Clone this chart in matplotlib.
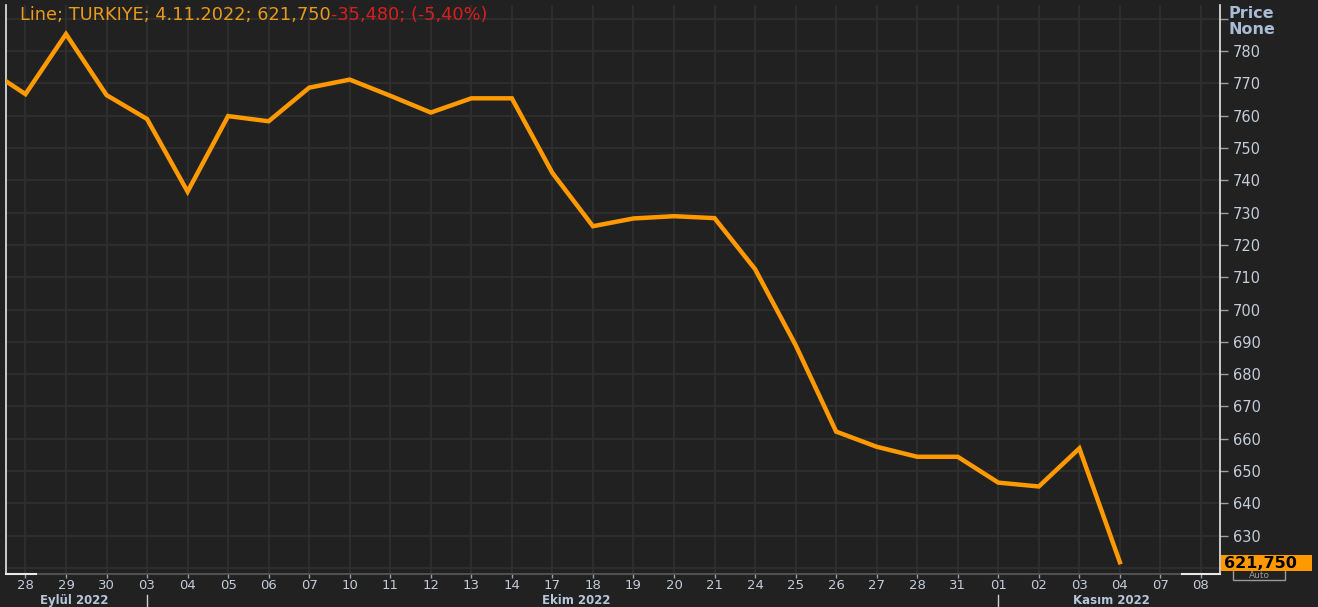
import matplotlib
matplotlib.use("Agg")
import matplotlib.pyplot as plt
from matplotlib.patches import Rectangle

# ---- data ----
dates = ["27", "28", "29", "30", "03", "04", "05", "06", "07", "10", "11", "12", "13", "14",
         "17", "18", "19", "20", "21", "24", "25", "26", "27", "28", "31", "01", "02", "03", "04"]
prices = [775.0, 766.7, 785.3, 766.4, 759.0, 736.5, 759.9, 758.3, 768.7, 771.2, 766.2, 761.0,
          765.4, 765.4, 742.3, 725.8, 728.2, 728.9, 728.3, 712.5, 689.0, 662.2, 657.5, 654.4,
          654.4, 646.4, 645.2, 657.0, 621.75]
tick_labels = ["28", "29", "30", "03", "04", "05", "06", "07", "10", "11", "12", "13", "14",
               "17", "18", "19", "20", "21", "24", "25", "26", "27", "28", "31", "01", "02",
               "03", "04", "07", "08"]
y_ticks = list(range(620, 791, 10))
months = ["Eylül 2022", "Ekim 2022", "Kasım 2022"]
month_centers = [1.2, 13.6, 26.8]
month_starts = [3, 24]
last_value = "621,750"

BG = "#212121"
GRID = "#303030"
TXT = "#c3ccd8"
ORANGE = "#ff9900"

W, H = 1318, 607
BOT = 574
fig = plt.figure(figsize=(W / 100, H / 100), dpi=100, facecolor=BG)
ax = fig.add_axes([6 / W, 1 - BOT / H, (1220 - 6) / W, (BOT - 5) / H])
ax.set_facecolor(BG)

x = [i - 1 for i in range(len(prices))]
ax.plot(x, prices, color=ORANGE, lw=3.2, solid_joinstyle="miter", zorder=3)

ax.set_xlim(-0.48, 29.47)
ax.set_ylim(618.1, 794.3)
ax.set_xticks(range(len(tick_labels)))
ax.set_xticklabels(tick_labels)
ax.set_yticks(y_ticks)
ax.set_yticklabels([str(v) if 630 <= v <= 780 else "" for v in y_ticks])
for lab in ax.get_yticklabels():
    if lab.get_text() == "700":
        lab.set_fontweight("bold")

ax.yaxis.tick_right()
ax.tick_params(axis="y", colors="#9aa0a8", labelcolor=TXT, labelsize=10.5, length=6, width=1, pad=3)
ax.tick_params(axis="x", colors="#9aa0a8", labelcolor=TXT, labelsize=9.5, length=3, width=1, pad=0.5)
ax.grid(True, color=GRID, lw=1.2)
ax.set_axisbelow(True)

ax.spines["top"].set_visible(False)
ax.spines["bottom"].set_color("#5a5a5a")
ax.spines["left"].set_color("#e8e8e8")
ax.spines["right"].set_color("#e8e8e8")
for s in ["bottom", "left", "right"]:
    ax.spines[s].set_linewidth(1.2)

# white corner segments on bottom
ax.plot([0, 30 / 1214], [0, 0], transform=ax.transAxes, color="#e8e8e8", lw=1.5, clip_on=False, zorder=5)
ax.plot([1 - 38 / 1214, 1], [0, 0], transform=ax.transAxes, color="#e8e8e8", lw=1.5, clip_on=False, zorder=5)

# title
t1 = fig.text(20 / W, 1 - 15 / H, "Line; TURKIYE; 4.11.2022; " + last_value, color="#e89a1c",
              fontsize=12.8, va="center", ha="left")
ax.annotate("-35,480; (-5,40%)", xy=(1, 0.5), xycoords=t1, va="center", ha="left",
            color="#d81e1e", fontsize=12.8, annotation_clip=False)

# Price / None
fig.text(1229 / W, 1 - 13 / H, "Price", color="#a9bcd6", fontsize=11.5, fontweight="bold", va="center")
fig.text(1229 / W, 1 - 30 / H, "None", color="#a9bcd6", fontsize=11.5, fontweight="bold", va="center")

# Auto box + last value box
fig.patches.append(Rectangle((1233 / W, 1 - 580 / H), 52 / W, 12 / H, transform=fig.transFigure,
                             facecolor=BG, edgecolor="#9a9a9a", lw=1, zorder=4))
fig.text(1259 / W, 1 - 575.5 / H, "Auto", color="#9a9a9a", fontsize=6.5, ha="center", va="center", zorder=4)
fig.patches.append(Rectangle((1221 / W, 1 - 571 / H), 91 / W, 16 / H, transform=fig.transFigure,
                             facecolor=ORANGE, edgecolor="none", zorder=5))
fig.text(1224 / W, 1 - 563 / H, last_value, color="black", fontsize=11.5, fontweight="bold",
         ha="left", va="center", zorder=6)

# month labels
for m, c in zip(months, month_centers):
    xf = ax.transData.transform((c, 0))[0] / W
    fig.text(xf, 0.3 / H, m, color="#b7c6da", fontsize=8.5, fontweight="bold",
             ha="center", va="bottom")
trans = ax.get_xaxis_transform()
for s in month_starts:
    ax.plot([s, s], [-21 / 569, -33 / 569], transform=trans, color="#cfcfcf", lw=1, clip_on=False)

fig.savefig("out.png", dpi=100, facecolor=BG)
